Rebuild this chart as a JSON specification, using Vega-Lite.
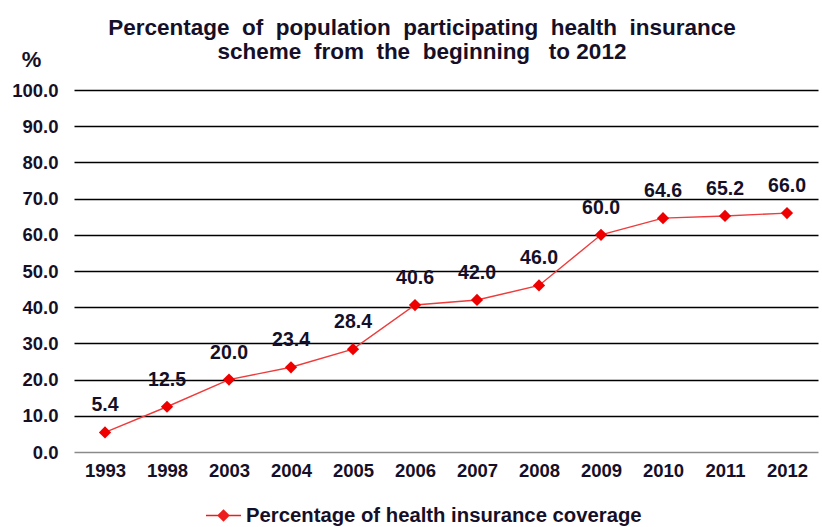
{
  "$schema": "https://vega.github.io/schema/vega-lite/v6.json",
  "width": 744,
  "height": 362,
  "autosize": "none",
  "padding": {"left": 74, "top": 90, "right": 4, "bottom": 75},
  "background": "white",
  "config": {
    "view": {"stroke": null},
    "font": "Liberation Sans"
  },
  "title": {
    "text": ["Percentage\u00a0\u00a0of\u00a0\u00a0population\u00a0\u00a0participating\u00a0\u00a0health\u00a0\u00a0insurance", "scheme\u00a0\u00a0from\u00a0\u00a0the\u00a0\u00a0beginning\u00a0\u00a0\u00a0to\u00a02012"],
    "fontSize": 22.5,
    "fontWeight": "bold",
    "color": "#151028",
    "anchor": "middle",
    "frame": "group",
    "dx": -24,
    "lineHeight": 24,
    "offset": -15
  },
  "data": {
    "values": [
      {"year": "1993", "pct": 5.4, "series": "Percentage of health insurance coverage"},
      {"year": "1998", "pct": 12.5, "series": "Percentage of health insurance coverage"},
      {"year": "2003", "pct": 20.0, "series": "Percentage of health insurance coverage"},
      {"year": "2004", "pct": 23.4, "series": "Percentage of health insurance coverage"},
      {"year": "2005", "pct": 28.4, "series": "Percentage of health insurance coverage"},
      {"year": "2006", "pct": 40.6, "series": "Percentage of health insurance coverage"},
      {"year": "2007", "pct": 42.0, "series": "Percentage of health insurance coverage"},
      {"year": "2008", "pct": 46.0, "series": "Percentage of health insurance coverage"},
      {"year": "2009", "pct": 60.0, "series": "Percentage of health insurance coverage"},
      {"year": "2010", "pct": 64.6, "series": "Percentage of health insurance coverage"},
      {"year": "2011", "pct": 65.2, "series": "Percentage of health insurance coverage"},
      {"year": "2012", "pct": 66.0, "series": "Percentage of health insurance coverage"}
    ]
  },
  "encoding": {
    "x": {
      "field": "year",
      "type": "ordinal",
      "sort": null,
      "scale": {"type": "point", "padding": 0.5},
      "axis": {
        "title": null,
        "labelAngle": 0,
        "labelFontSize": 18.5,
        "labelFontWeight": "bold",
        "labelColor": "#151028",
        "labelPadding": 9,
        "ticks": false,
        "domain": false,
        "grid": false
      }
    },
    "y": {
      "field": "pct",
      "type": "quantitative",
      "scale": {"domain": [0, 100]},
      "axis": {
        "title": "%",
        "titleAngle": 0,
        "titleFontSize": 22,
        "titleFontWeight": "bold",
        "titleColor": "#151028",
        "titleAlign": "center",
        "titleBaseline": "bottom",
        "titleX": -43,
        "titleY": -19,
        "values": [0, 10, 20, 30, 40, 50, 60, 70, 80, 90, 100],
        "format": ".1f",
        "labelFontSize": 18.5,
        "labelFontWeight": "bold",
        "labelColor": "#151028",
        "labelPadding": 16,
        "ticks": false,
        "domain": false,
        "grid": true,
        "gridColor": {"condition": {"test": "datum.value === 0", "value": "#8a8a8a"}, "value": "#000000"},
        "gridWidth": 1.5
      }
    }
  },
  "layer": [
    {
      "mark": {"type": "line", "stroke": "#ee3b3b", "strokeWidth": 1.4},
      "encoding": {
        "color": {
          "field": "series",
          "type": "nominal",
          "scale": {"range": ["#ee1c1c"]},
          "legend": {
            "title": null,
            "orient": "none",
            "legendX": 131,
            "legendY": 407,
            "symbolType": "M-1,0H1M0,-0.3L0.3,0L0,0.3L-0.3,0Z",
            "symbolSize": 1225,
            "symbolStrokeWidth": 1.5,
            "symbolFillColor": "#ee1c1c",
            "symbolStrokeColor": "#ee1c1c",
            "labelFontSize": 20.3,
            "labelFontWeight": "bold",
            "labelColor": "#151028",
            "labelOffset": 4,
            "labelLimit": 700
          }
        }
      }
    },
    {
      "mark": {"type": "point", "shape": "diamond", "filled": true, "size": 150, "color": "#ee0000", "opacity": 1}
    },
    {
      "mark": {"type": "text", "dy": -27, "fontSize": 19.5, "fontWeight": "bold", "color": "#151028"},
      "encoding": {
        "text": {"field": "pct", "type": "quantitative", "format": ".1f"}
      }
    }
  ]
}
